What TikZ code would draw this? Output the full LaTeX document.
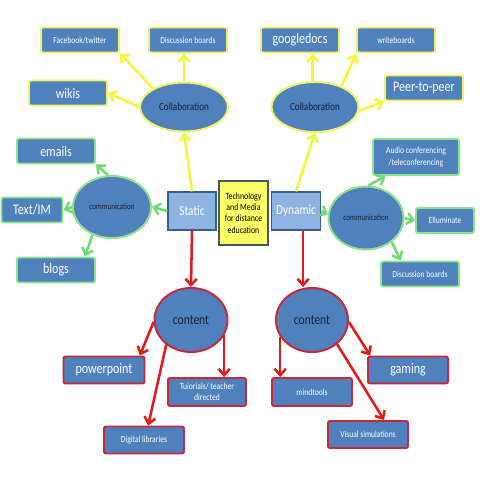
\documentclass[tikz,border=0pt]{standalone}
\usepackage{fontspec}
\setmainfont{Carlito}[FakeStretch=0.82]
\usetikzlibrary{shapes.geometric,arrows.meta}
\definecolor{boxblue}{HTML}{4F81BD}
\definecolor{lightblue}{HTML}{8DB3E2}
\definecolor{edgeblue}{HTML}{385D8A}
\definecolor{edgegray}{HTML}{4A5563}
\definecolor{glowyellow}{HTML}{F2F266}
\definecolor{glowgreen}{HTML}{8EE28E}
\definecolor{glowred}{HTML}{C8283A}
\definecolor{arryellow}{HTML}{F5F53C}
\definecolor{arrgreen}{HTML}{6FDC6F}
\definecolor{arrred}{HTML}{E31A1A}
\definecolor{hubyellow}{HTML}{FFFF66}
\definecolor{inknavy}{HTML}{14213D}

\begin{document}
\begin{tikzpicture}[x=0.025cm, y=-0.025cm,
  leaf/.style={rectangle, rounded corners=1.5pt, fill=boxblue, text=white, line width=1.4pt,
    minimum width=1.95cm, minimum height=0.625cm, inner sep=1pt, align=center},
  bubble/.style={ellipse, fill=boxblue, text=inknavy, line width=1.4pt, inner sep=0pt},
  side/.style={rectangle, fill=lightblue, draw=edgeblue, line width=0.8pt, text=white,
    minimum width=1.2cm, minimum height=0.95cm, font=\fontsize{9.8}{11}\selectfont},
  bigtext/.style={font=\fontsize{10.4}{12}\selectfont},
  smalltext/.style={font=\fontsize{6.6}{8}\selectfont},
  link/.style={line width=1.8pt, -{Straight Barb[length=4.5pt, width=8pt]}},
  ylink/.style={link, arryellow},
  glink/.style={link, arrgreen},
  rlink/.style={link, arrred}]
  % --- Cadre ---
  \fill[white] (0,0) rectangle (480,480);
  \useasboundingbox (0,0) rectangle (480,480);
  % --- Centre ---
  \node[rectangle, fill=hubyellow, draw=edgegray, line width=0.8pt, minimum width=1.225cm,
    minimum height=1.6cm, inner sep=1pt, align=center, font=\fontsize{6.8}{8}\selectfont]
    (hub) at (243.5,213) {Technology\\and Media\\for distance\\education};
  \node[side] (static) at (192,211) {Static};
  \node[side] (dynamic) at (296,211) {Dynamic};
  % --- Collaboration (jaune) ---
  \node[bubble, draw=glowyellow, minimum width=2.2cm, minimum height=1.225cm,
    font=\fontsize{7.9}{9}\selectfont] (collabL) at (184,107) {Collaboration};
  \node[bubble, draw=glowyellow, minimum width=2.175cm, minimum height=1.25cm,
    font=\fontsize{7.9}{9}\selectfont] (collabR) at (315,107) {Collaboration};
  \node[leaf, smalltext, draw=glowyellow] (fb) at (80,40) {Facebook/twitter};
  \node[leaf, smalltext, draw=glowyellow] (discL) at (188,40) {Discussion boards};
  \node[leaf, bigtext, draw=glowyellow] (wikis) at (68,93) {wikis};
  \node[leaf, bigtext, draw=glowyellow] (gdocs) at (300,40) {googledocs};
  \node[leaf, smalltext, draw=glowyellow] (wboards) at (396,40) {writeboards};
  \node[leaf, bigtext, draw=glowyellow] (p2p) at (424,88) {Peer-to-peer};
  % --- Communication (vert) ---
  \node[bubble, draw=glowgreen, minimum width=1.95cm, minimum height=1.55cm,
    font=\fontsize{6.2}{7}\selectfont] (commL) at (112,207) {communication};
  \node[bubble, draw=glowgreen, minimum width=1.875cm, minimum height=1.575cm,
    font=\fontsize{6.2}{7}\selectfont] (commR) at (366,218) {communication};
  \node[leaf, bigtext, draw=glowgreen] (emails) at (56,151) {emails};
  \node[leaf, bigtext, draw=glowgreen, minimum width=1.525cm] (textim) at (32,210) {Text/IM};
  \node[leaf, bigtext, draw=glowgreen] (blogs) at (56,270) {blogs};
  \node[leaf, smalltext, draw=glowgreen, minimum width=2.15cm, minimum height=0.9cm]
    (audio) at (416,157) {Audio conferencing\\/teleconferencing};
  \node[leaf, smalltext, draw=glowgreen, minimum width=1.45cm] (ellum) at (445,220.5) {Elluminate};
  \node[leaf, smalltext, draw=glowgreen] (discR) at (420,274) {Discussion boards};
  % --- Contenu (rouge) ---
  \node[bubble, draw=glowred, minimum width=1.825cm, minimum height=1.6cm,
    font=\fontsize{10}{12}\selectfont] (contentL) at (191,320) {content};
  \node[bubble, draw=glowred, minimum width=1.8cm, minimum height=1.6cm,
    font=\fontsize{10}{12}\selectfont] (contentR) at (312,320) {content};
  \node[leaf, bigtext, draw=glowred, minimum width=2.025cm, minimum height=0.675cm] (ppt) at (104,370) {powerpoint};
  \node[leaf, smalltext, draw=glowred, minimum height=0.7cm] (tut) at (207,392) {Tuiorials/ teacher\\directed};
  \node[leaf, smalltext, draw=glowred, minimum width=2cm, minimum height=0.675cm] (diglib) at (144,440) {Digital libraries};
  \node[leaf, bigtext, draw=glowred, minimum width=2cm, minimum height=0.675cm] (gaming) at (408,370) {gaming};
  \node[leaf, smalltext, draw=glowred, minimum width=2cm, minimum height=0.7cm] (mind) at (312,392) {mindtools};
  \node[leaf, smalltext, draw=glowred, minimum width=2cm, minimum height=0.675cm] (vissim) at (368,434.5) {Visual simulations};
  % --- Fleches ---
  \foreach \a/\b in {static.north/collabL.south, collabL.149/fb.south east,
    collabL.west/wikis.east, collabL.north/collabL.north |- discL.south,
    dynamic.north/collabR.south, collabR.95/collabR.95 |- gdocs.south,
    collabR.38/wboards.south west, collabR.-5/p2p.south west}
    \draw[ylink] (\a) -- (\b);
  \foreach \a/\b in {static.west/commL.east, commL.97/emails.south east,
    commL.west/textim.east, commL.235/blogs.25,
    dynamic.east/commR.175, commR.86/audio.212, commR.east/ellum.west, commR.-43/discR.145}
    \draw[glink] (\a) -- (\b);
  \foreach \a/\b in {static.south/contentL.north, contentL.183/ppt.22,
    contentL.-25/contentL.-25 |- tut.north, contentL.225/diglib.74,
    dynamic.-70/dynamic.-70 |- contentR.north, contentR.208/contentR.208 |- mind.north,
    contentR.-3/gaming.159, contentR.-44/vissim.42}
    \draw[rlink] (\a) -- (\b);
\end{tikzpicture}
\end{document}
